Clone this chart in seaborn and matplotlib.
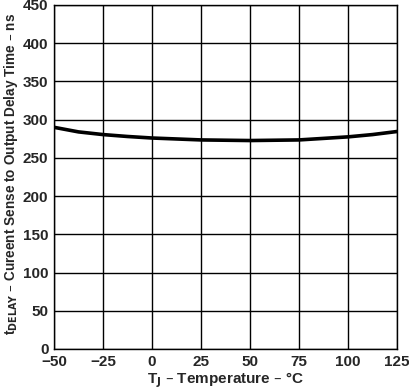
import matplotlib
matplotlib.use('Agg')
import matplotlib.pyplot as plt
import seaborn as sns
import pandas as pd

# values
temp_c = [-50, -37.5, -25, -12.5, 0, 25, 50, 75, 100, 112.5, 125]
delay_ns = [290, 284, 280.5, 278, 276, 273.5, 272.7, 273.5, 277.5, 280.5, 284.5]
x_ticks = [-50, -25, 0, 25, 50, 75, 100, 125]
y_ticks = [0, 50, 100, 150, 200, 250, 300, 350, 400, 450]

df = pd.DataFrame({'temp': temp_c, 'delay': delay_ns})

sns.set_style('white')
plt.rcParams['font.family'] = ['Liberation Sans', 'DejaVu Sans']
plt.rcParams['font.weight'] = 'bold'

fig = plt.figure(figsize=(4.09, 3.9), dpi=100)
ax = fig.add_axes([54 / 409, 41 / 390, 343 / 409, 344 / 390])

sns.lineplot(x='temp', y='delay', data=df, ax=ax, color='black', linewidth=2.6)

ax.set_xlim(-50, 125)
ax.set_ylim(0, 450)
ax.set_xticks(x_ticks)
ax.set_yticks(y_ticks)
ax.set_xticklabels(['\u221250', '\u221225', '0', '25', '50', '75', '100', '125'],
                   fontsize=11, fontweight='bold')
ax.set_yticklabels([str(v) for v in y_ticks], fontsize=11, fontweight='bold')
ax.tick_params(length=0, pad=4)
ax.grid(True, color='black', linewidth=1)
for s in ax.spines.values():
    s.set_color('black')
    s.set_linewidth(1)

ax.set_xlabel('T$_\\mathbf{J}$ \u2013 Temperature \u2013 \u00b0C', fontsize=11,
              fontweight='bold', labelpad=1)
ax.set_ylabel('t$_\\mathbf{DELAY}$ \u2013 Cureent Sense to Output Delay Time \u2013 ns',
              fontsize=9.8, fontweight='bold')
ax.yaxis.set_label_coords(-0.1, 0.51)

fig.savefig('out.png', dpi=100)
